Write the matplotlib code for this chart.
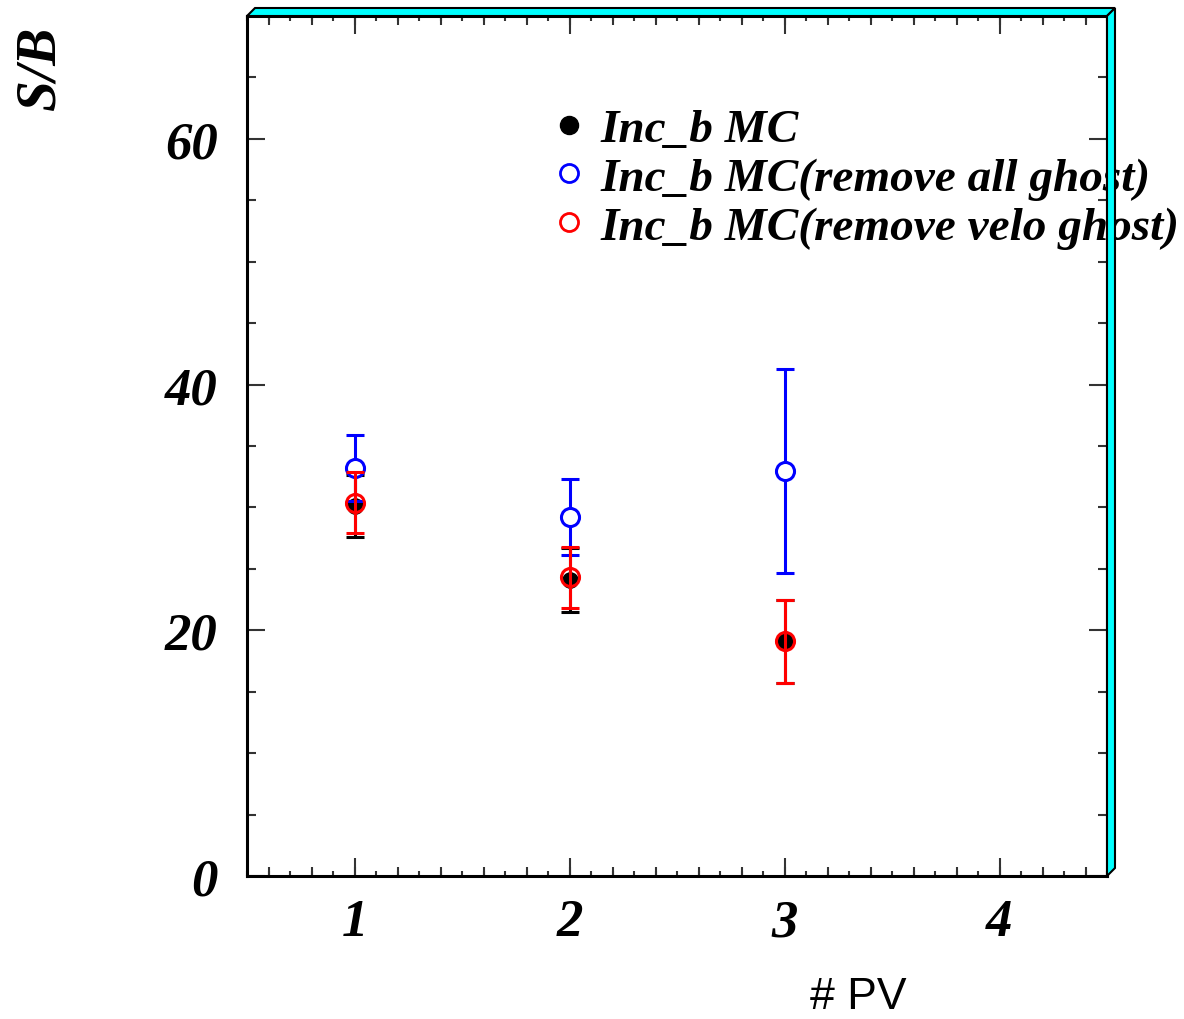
"""S/B versus number of primary vertices, ROOT-style canvas look."""
import matplotlib
matplotlib.use("Agg")
import matplotlib.pyplot as plt
from matplotlib.lines import Line2D
from matplotlib.patches import Polygon
from matplotlib.ticker import MultipleLocator

# ─── Data ──────────────────────────────────────────────────────────────────
n_pv = [1, 2, 3]

sb_incb = [30.1, 24.1, 19.1]
err_incb = [2.5, 2.6, 3.4]

sb_all_ghost = [33.2, 29.2, 33.0]
err_all_ghost = [2.7, 3.1, 8.3]

sb_velo_ghost = [30.4, 24.3, 19.1]
err_velo_ghost = [2.5, 2.45, 3.4]

labels = ["Inc_b MC",
          "Inc_b MC(remove all ghost)",
          "Inc_b MC(remove velo ghost)"]

# ─── Style ─────────────────────────────────────────────────────────────────
SERIF = ["Liberation Serif", "DejaVu Serif"]
CYAN = "#00FFFF"
TICK = "#333333"

W, H = 1184, 1020
fig = plt.figure(figsize=(W / 100, H / 100), dpi=100)
left, right, bottom, top = 247 / W, 1107 / W, 1 - 877 / H, 1 - 17 / H
ax = fig.add_axes([left, bottom, right - left, top - bottom])

ax.errorbar(n_pv, sb_incb, yerr=err_incb, fmt="o", color="black",
            ms=11, elinewidth=2.2, capsize=6.5, capthick=2.2, zorder=3)
ax.errorbar(n_pv, sb_all_ghost, yerr=err_all_ghost, fmt="o", color="#0000FF",
            mfc="white", mec="#0000FF", mew=2.2, ms=13, elinewidth=2.2,
            capsize=6.5, capthick=2.2, zorder=4)
ax.errorbar(n_pv, sb_velo_ghost, yerr=err_velo_ghost, fmt="o", color="#FF0000",
            mfc="none", mec="#FF0000", mew=2.2, ms=13, elinewidth=2.2,
            capsize=6.5, capthick=2.2, zorder=5)

ax.set_xlim(0.5, 4.5)
ax.set_ylim(0, 70)

# ticks: inside on all sides, ROOT-like
ax.xaxis.set_major_locator(MultipleLocator(1))
ax.xaxis.set_minor_locator(MultipleLocator(0.1))
ax.yaxis.set_major_locator(MultipleLocator(20))
ax.yaxis.set_minor_locator(MultipleLocator(5))
ax.tick_params(which="both", direction="in", top=True, right=True,
               color=TICK, width=1.5)
ax.tick_params(axis="x", which="major", length=13, pad=16)
ax.tick_params(axis="x", which="minor", length=3.5)
ax.tick_params(axis="y", which="major", length=13, pad=21)
ax.tick_params(axis="y", which="minor", length=6.5)

# medium ticks every 0.2 on the x axis
for side in ("bottom", "top"):
    sec = ax.secondary_xaxis(side)
    sec.set_xticks([0.6 + 0.2 * i for i in range(20)])
    sec.tick_params(direction="in", length=6.5, width=1.5, color=TICK,
                    labelbottom=False, labeltop=False)
    sec.spines[side].set_visible(False)

for lab in ax.get_xticklabels() + ax.get_yticklabels():
    lab.set_family(SERIF)
    lab.set_fontweight("bold")
    lab.set_fontstyle("italic")
    lab.set_fontsize(38)

for s in ax.spines.values():
    s.set_linewidth(2.2)
ax.grid(False)

# legend
handles = [
    Line2D([], [], marker="o", ls="none", color="black", ms=13),
    Line2D([], [], marker="o", ls="none", mfc="white", mec="#0000FF", mew=2, ms=13),
    Line2D([], [], marker="o", ls="none", mfc="white", mec="#FF0000", mew=2, ms=13),
]
ax.legend(handles, labels, loc="upper left", bbox_to_anchor=(0.35, 0.893),
          frameon=False, handlelength=0.9, handletextpad=0.21, labelspacing=0.12,
          borderpad=0, borderaxespad=0,
          prop={"family": SERIF, "weight": "bold", "style": "italic", "size": 34})

# axis titles
fig.text(40 / W, 1 - 68 / H, "S/B", rotation=90, ha="center", va="center",
         family=SERIF, fontweight="bold", fontstyle="italic", fontsize=40)
fig.text(858 / W, 1 - 1009 / H, "# PV", ha="center", va="baseline",
         family=["Liberation Sans", "DejaVu Sans"], fontsize=32)

# cyan 3D frame on top and right
dx, dy = 8 / W, 8 / H
frame = [
    [(left, top), (left + dx, top + dy), (right + dx, top + dy), (right, top)],
    [(right, top), (right + dx, top + dy), (right + dx, bottom + dy), (right, bottom)],
]
for pts in frame:
    fig.patches.append(Polygon(pts, closed=True, facecolor=CYAN, edgecolor="black",
                               linewidth=1.5, transform=fig.transFigure, zorder=10))

fig.savefig("out.png", dpi=100)
